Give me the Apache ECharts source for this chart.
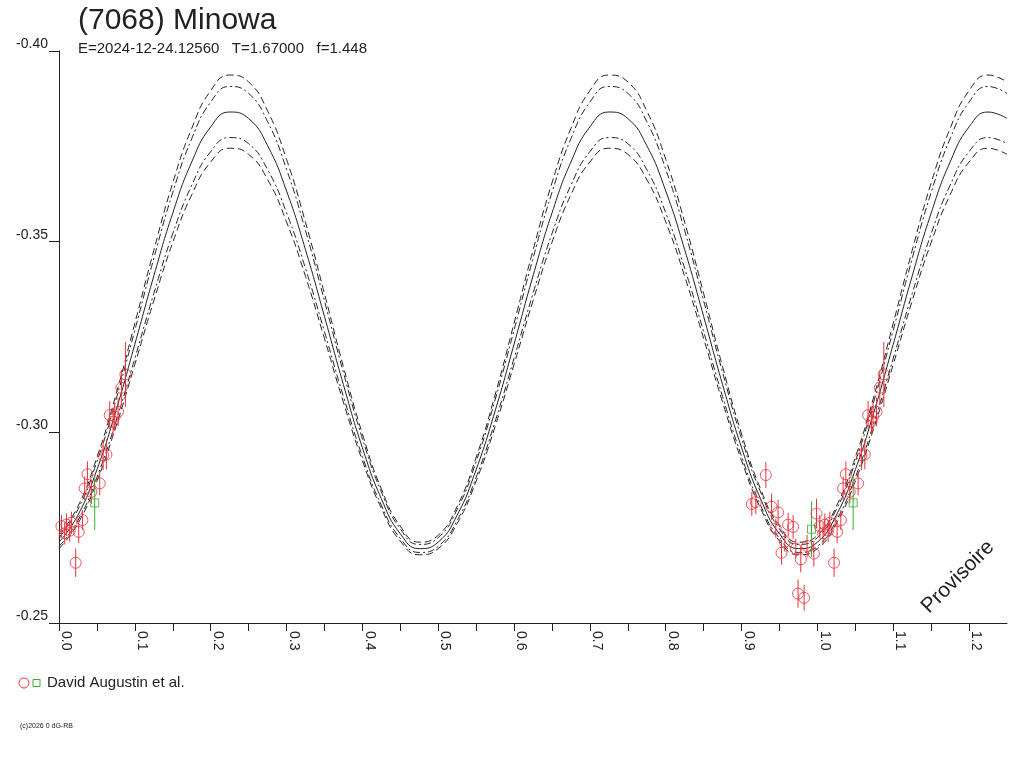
<!DOCTYPE html>
<html>
<head>
<meta charset="utf-8">
<title>(7068) Minowa</title>
<script src="https://cdn.jsdelivr.net/npm/echarts/dist/echarts.min.js"></script>
<style>
  html, body { margin: 0; padding: 0; background: #fff; }
  #LightCurve { width: 1024px; height: 768px; }
</style>
</head>
<body>
<div id="LightCurve"></div>
<script>
// fitted curve, one rotation, phase step 0.025 (0 .. 0.975)
const curvePhaseStep = 0.025;
const fitMean = [-0.2712,-0.2783,-0.2902,-0.3056,-0.3231,-0.3410,-0.3575,-0.3709,-0.3801,-0.3840,
                 -0.3823,-0.3752,-0.3633,-0.3479,-0.3304,-0.3125,-0.2960,-0.2826,-0.2734,-0.2695,
                 -0.2712,-0.2783,-0.2902,-0.3056,-0.3231,-0.3410,-0.3575,-0.3709,-0.3801,-0.3840,
                 -0.3823,-0.3752,-0.3633,-0.3479,-0.3304,-0.3125,-0.2960,-0.2826,-0.2734,-0.2695];
const fitUpper2 = [-0.2730,-0.2806,-0.2934,-0.3098,-0.3286,-0.3477,-0.3654,-0.3797,-0.3896,-0.3937,
                   -0.3919,-0.3843,-0.3716,-0.3551,-0.3364,-0.3172,-0.2996,-0.2852,-0.2754,-0.2712,
                   -0.2730,-0.2806,-0.2934,-0.3098,-0.3286,-0.3477,-0.3654,-0.3797,-0.3896,-0.3937,
                   -0.3919,-0.3843,-0.3716,-0.3551,-0.3364,-0.3172,-0.2996,-0.2852,-0.2754,-0.2712];
const fitUpper1 = [-0.2724,-0.2798,-0.2923,-0.3085,-0.3268,-0.3456,-0.3629,-0.3770,-0.3866,-0.3907,
                   -0.3889,-0.3815,-0.3690,-0.3529,-0.3345,-0.3157,-0.2984,-0.2844,-0.2747,-0.2706,
                   -0.2724,-0.2798,-0.2923,-0.3085,-0.3268,-0.3456,-0.3629,-0.3770,-0.3866,-0.3907,
                   -0.3889,-0.3815,-0.3690,-0.3529,-0.3345,-0.3157,-0.2984,-0.2844,-0.2747,-0.2706];
const fitLower1 = [-0.2701,-0.2769,-0.2882,-0.3028,-0.3194,-0.3364,-0.3521,-0.3648,-0.3736,-0.3773,
                   -0.3757,-0.3689,-0.3576,-0.3430,-0.3264,-0.3094,-0.2937,-0.2809,-0.2722,-0.2685,
                   -0.2701,-0.2769,-0.2882,-0.3028,-0.3194,-0.3364,-0.3521,-0.3648,-0.3736,-0.3773,
                   -0.3757,-0.3689,-0.3576,-0.3430,-0.3264,-0.3094,-0.2937,-0.2809,-0.2722,-0.2685];
const fitLower2 = [-0.2695,-0.2761,-0.2872,-0.3015,-0.3178,-0.3345,-0.3498,-0.3623,-0.3709,-0.3745,
                   -0.3729,-0.3663,-0.3552,-0.3409,-0.3246,-0.3079,-0.2926,-0.2801,-0.2715,-0.2679,
                   -0.2695,-0.2761,-0.2872,-0.3015,-0.3178,-0.3345,-0.3498,-0.3623,-0.3709,-0.3745,
                   -0.3729,-0.3663,-0.3552,-0.3409,-0.3246,-0.3079,-0.2926,-0.2801,-0.2715,-0.2679];

// observations (David Augustin et al.), phase as plotted around 1.0
const obsPhase = [0.9320,0.9135,0.9188,0.9395,0.9482,0.9451,0.9614,0.9680,0.9570,0.9527,
                  0.9715,0.9781,0.9864,0.9953,0.9745,0.9825,0.9988,1.0032,1.0098,1.0164,
                  1.0075,1.0141,1.0309,1.0260,1.0220,1.0375,1.0339,1.0427,1.0537,1.0582,
                  1.0625,1.0669,1.0734,1.0779,1.0713,1.0823,1.0876];
const obsMag = [-0.2888,-0.2812,-0.2817,-0.2805,-0.2790,-0.2748,-0.2758,-0.2752,-0.2713,-0.2684,
                -0.2695,-0.2667,-0.2702,-0.2682,-0.2577,-0.2566,-0.2787,-0.2754,-0.2758,-0.2763,
                -0.2735,-0.2742,-0.2770,-0.2739,-0.2658,-0.2890,-0.2853,-0.2844,-0.2866,-0.2940,
                -0.2942,-0.3045,-0.3041,-0.3054,-0.3028,-0.3117,-0.3152];
const obsErr = [0.0034,0.0031,0.0031,0.0034,0.0033,0.0024,0.0031,0.0031,0.0026,0.0031,
                0.0026,0.0034,0.0029,0.0034,0.0037,0.0034,0.0039,0.0029,0.0029,0.0029,
                0.0029,0.0029,0.0026,0.0029,0.0037,0.0034,0.0031,0.0031,0.0031,0.0039,
                0.0039,0.0037,0.0037,0.0037,0.0037,0.0045,0.0085];
const obs2Phase = [0.9922, 1.0471];
const obs2Mag = [-0.2746, -0.2815];
const obs2Err = [0.0073, 0.0071];

const xMin = 0, xMax = 1.25;
const titleText = '(7068) Minowa';
const subText = 'E=2024-12-24.12560   T=1.67000   f=1.448';
const legendText = 'David Augustin et al.';

const FONT = '"Liberation Sans", Arial, sans-serif';
const INK = '#222';
const RED = '#e8323c';
const GREEN = '#3aaa35';

const curveData = (arr) => {
  const out = [];
  const n = Math.round((xMax - xMin) / curvePhaseStep);
  for (let i = 0; i <= n; i++) {
    out.push([+(i * curvePhaseStep).toFixed(3), arr[i % arr.length]]);
  }
  return out;
};

// each point is shown at its phase and, when it falls on the axis, one rotation earlier
const pointData = (ph, mag, err) => {
  const out = [];
  ph.forEach((p, i) => {
    [p, p - 1].forEach(q => {
      if (q >= xMin && q <= xMax) out.push([q, mag[i], err[i]]);
    });
  });
  return out;
};

const errorBars = (data, color) => ({
  type: 'custom',
  data: data,
  encode: { x: 0, y: 1 },
  z: 3,
  renderItem: (params, api) => {
    const x = api.value(0), y = api.value(1), e = api.value(2);
    const p1 = api.coord([x, y - e]);
    const p2 = api.coord([x, y + e]);
    return {
      type: 'line',
      shape: { x1: p1[0], y1: p1[1], x2: p2[0], y2: p2[1] },
      style: { stroke: color, lineWidth: 1 }
    };
  }
});

const fitLine = (arr, dash) => ({
  type: 'line',
  data: curveData(arr),
  smooth: true,
  showSymbol: false,
  silent: true,
  z: 2,
  lineStyle: { color: INK, width: 1, type: dash }
});

const getOptionLightCurve = () => {
  const red = pointData(obsPhase, obsMag, obsErr);
  const green = pointData(obs2Phase, obs2Mag, obs2Err);
  return {
    animation: false,
    backgroundColor: '#fff',
    textStyle: { fontFamily: FONT },
    title: {
      text: titleText,
      subtext: subText,
      left: 73,
      top: 1,
      itemGap: 5,
      textStyle: { fontFamily: FONT, fontSize: 30, fontWeight: 'normal', color: INK },
      subtextStyle: { fontFamily: FONT, fontSize: 15, color: INK }
    },
    grid: { left: 59, right: 17, top: 51, bottom: 145, containLabel: false },
    xAxis: {
      type: 'value',
      min: xMin,
      max: xMax,
      interval: 0.05,
      axisLine: { lineStyle: { color: INK, width: 1 } },
      axisTick: { length: 8, lineStyle: { color: INK } },
      splitLine: { show: false },
      axisLabel: {
        rotate: -90,
        margin: 8,
        fontSize: 14,
        color: INK,
        fontFamily: FONT,
        verticalAlign: 'bottom',
        showMaxLabel: false,
        formatter: v => (Math.round(v * 100) % 10 === 0 ? v.toFixed(1) : '')
      }
    },
    yAxis: {
      type: 'value',
      inverse: true,
      min: -0.40,
      max: -0.25,
      interval: 0.05,
      axisLine: { show: true, lineStyle: { color: INK, width: 1 } },
      axisTick: { show: true, length: 10, lineStyle: { color: INK } },
      splitLine: { show: false },
      axisLabel: {
        margin: 11,
        fontSize: 14,
        color: INK,
        fontFamily: FONT,
        verticalAlign: 'bottom',
        formatter: v => v.toFixed(2)
      }
    },
    series: [
      fitLine(fitUpper2, [7, 4]),
      fitLine(fitUpper1, [7, 3, 2, 3]),
      fitLine(fitMean, 'solid'),
      fitLine(fitLower1, [7, 3, 2, 3]),
      fitLine(fitLower2, [7, 4]),
      errorBars(red, RED),
      errorBars(green, GREEN),
      {
        type: 'scatter',
        data: red,
        symbol: 'circle',
        symbolSize: 11,
        z: 4,
        itemStyle: { color: 'rgba(0,0,0,0)', borderColor: RED, borderWidth: 1 }
      },
      {
        type: 'scatter',
        data: green,
        symbol: 'rect',
        symbolSize: 8,
        z: 4,
        itemStyle: { color: 'rgba(0,0,0,0)', borderColor: GREEN, borderWidth: 1 }
      }
    ],
    graphic: [
      { type: 'circle', shape: { cx: 24, cy: 683, r: 5 }, style: { fill: 'none', stroke: RED, lineWidth: 1 } },
      { type: 'rect', shape: { x: 33, y: 679.5, width: 7, height: 7 }, style: { fill: 'none', stroke: GREEN, lineWidth: 1 } },
      { type: 'text', x: 47, y: 683, style: { text: legendText, font: '15px ' + FONT, fill: INK, textVerticalAlign: 'middle' } },
      { type: 'text', x: 20, y: 726, style: { text: '(c)2026 0 dG-RB', font: '7px ' + FONT, fill: INK, textVerticalAlign: 'middle' } },
      { type: 'text', x: 958, y: 577, rotation: Math.PI / 4,
        style: { text: 'Provisoire', font: '21px ' + FONT, fill: INK, textAlign: 'center', textVerticalAlign: 'middle' } }
    ]
  };
};

const initCharts = () => {
  const chart = echarts.init(document.getElementById('LightCurve'));
  chart.setOption(getOptionLightCurve());
};

window.addEventListener('load', () => {
  initCharts();
});
</script>
</body>
</html>
